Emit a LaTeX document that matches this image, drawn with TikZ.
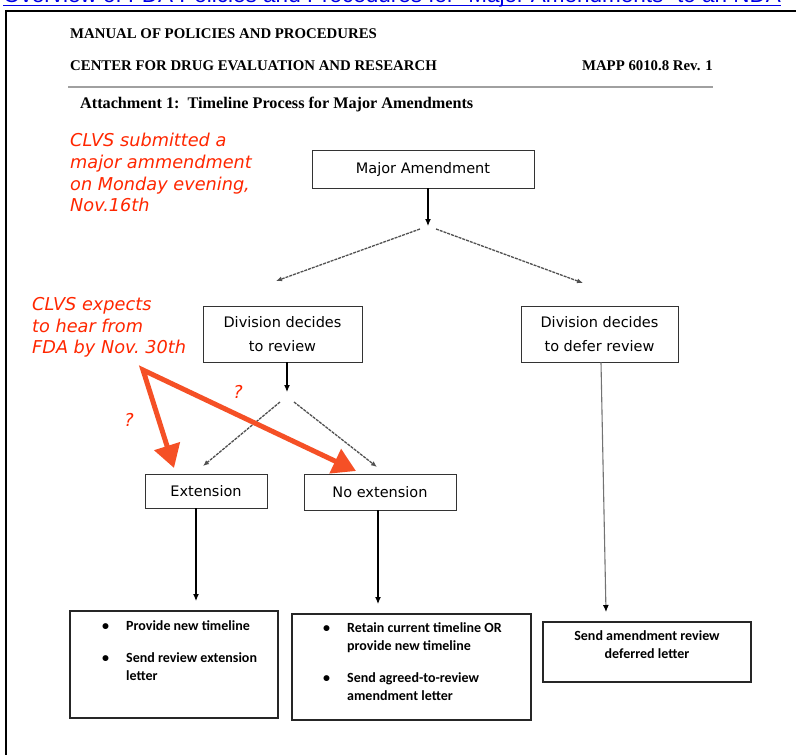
\documentclass[tikz,border=0pt]{standalone}
\usepackage{fontspec}
\setmainfont{Liberation Serif}
\newfontfamily\boxfont{DejaVu Sans}
\newfontfamily\notefont{DejaVu Sans}[ItalicFont={DejaVu Sans Oblique}]
\newfontfamily\listfont{Carlito}
\newfontfamily\linkfont{Liberation Sans}
\usepackage{xcolor}
\definecolor{scarlet}{RGB}{255,38,0}
\definecolor{flame}{RGB}{245,80,38}
\definecolor{linkblue}{RGB}{0,0,230}
\definecolor{rulegray}{RGB}{160,160,160}
\definecolor{dashgray}{RGB}{80,80,80}
\usetikzlibrary{arrows.meta,positioning}

\begin{document}
\begin{tikzpicture}[x=1pt,y=-1pt,
    flowbox/.style={draw=black!80, line width=0.9pt, font=\boxfont\fontsize{14.5}{24}\selectfont, align=center, inner sep=0pt},
    listbox/.style={draw=black!85, line width=1.3pt, inner sep=0pt},
    listtext/.style={font=\listfont\bfseries\fontsize{14}{18.5}\selectfont, inner sep=0pt},
    note/.style={font=\notefont\itshape\fontsize{17.7}{21.7}\selectfont, text=scarlet, align=left, anchor=north west, inner sep=0pt},
    head/.style={font=\bfseries\fontsize{14.8}{17}\selectfont, inner sep=0pt},
    flowarrow/.style={-{Latex[length=7pt,width=6pt]}, line width=1.1pt},
    splitarrow/.style={-{Latex[length=6pt,width=5pt]}, draw=dashgray, line width=1.3pt, dash pattern=on 3pt off 1pt},
    redarrow/.style={{Triangle[length=23pt,width=26pt]}-{Triangle[length=23pt,width=26pt]}, draw=flame, line width=5pt},
  ]
  \useasboundingbox (0,0) rectangle (796,755);
  \clip (0,0) rectangle (796,755);

  % page heading, cut off at the top
  \node[font=\linkfont\fontsize{22.5}{26}\selectfont, text=linkblue, anchor=base west, inner sep=0pt] (doclink) at (3,2.5) {Overview of FDA Policies and Procedures for “Major Amendments” to an NDA};
  \draw[linkblue, line width=1pt] ([yshift=-2.8pt]doclink.base west) -- ([yshift=-2.8pt]doclink.base east);
  \draw[line width=2pt] (6,760) |- (800,11);

  % document header
  \node[head, anchor=base west] (manual) at (70,38.5) {MANUAL OF POLICIES AND PROCEDURES};
  \node[head, anchor=base west] (center) at (70,70.5) {CENTER FOR DRUG EVALUATION AND RESEARCH};
  \node[head, anchor=base east] (mapp) at (713,70.5) {MAPP 6010.8 Rev. 1};
  \draw[rulegray, line width=2pt] (68,87) -- (713,87);
  \node[head, font=\bfseries\fontsize{16.2}{18}\selectfont, anchor=base west] (attach) at (80,108) {Attachment 1:\ \ Timeline Process for Major Amendments};

  % flow chart
  \node[flowbox, minimum width=222pt, minimum height=38pt] (major) at (423,169) {Major Amendment};
  \node[flowbox, minimum width=159pt, minimum height=56pt] (review) at (282.5,334) {Division decides\\to review};
  \node[flowbox, minimum width=157pt, minimum height=56pt] (defer) at (599.5,334) {Division decides\\to defer review};
  \node[flowbox, minimum width=122pt, minimum height=34pt] (ext) at (206,491) {Extension};
  \node[flowbox, minimum width=152pt, minimum height=36pt] (noext) at (380,492) {No extension};

  \node[listbox, minimum width=208pt, minimum height=107pt] (extletter) at (174,664.5) {};
  \node[listbox, minimum width=239pt, minimum height=106pt] (keepletter) at (411.5,667) {};
  \node[listbox, minimum width=208pt, minimum height=60pt] (deferletter) at (647,652) {};
  \node[listtext, anchor=base west] (extitems) at (102,630) {\begin{tabular}[t]{@{}l@{\hspace{17pt}}l@{}}\textbullet & Provide new timeline\\[13.5pt] \textbullet & Send review extension\\ & letter\end{tabular}};
  \node[listtext, anchor=base west] (keepitems) at (323,632) {\begin{tabular}[t]{@{}l@{\hspace{17pt}}l@{}}\textbullet & Retain current timeline OR\\ & provide new timeline\\[13pt] \textbullet & Send agreed-to-review\\ & amendment letter\end{tabular}};
  \node[listtext, anchor=base] (deferitems) at (647,640) {\begin{tabular}[t]{@{}c@{}}Send amendment review\\deferred letter\end{tabular}};

  \coordinate (majsplit) at (428,226);
  \coordinate (majleft) at (420,229);
  \coordinate (majright) at (436,229);
  \coordinate (reviewtip) at (276,281);
  \coordinate (defertip) at (583,283);
  \draw[flowarrow] (major.south -| majsplit) -- (majsplit);
  \draw[splitarrow] (majleft) -- (reviewtip);
  \draw[splitarrow] (majright) -- (defertip);

  \coordinate (revsplit) at (287,392);
  \coordinate (revleft) at (280,402);
  \coordinate (revright) at (294,402);
  \coordinate (exttip) at (203,466);
  \coordinate (noexttip) at (377,467);
  \draw[flowarrow] (review.south -| revsplit) -- (revsplit);
  \draw[splitarrow] (revleft) -- (exttip);
  \draw[splitarrow] (revright) -- (noexttip);

  \coordinate (extdrop) at (196,601);
  \coordinate (noextdrop) at (378,604);
  \coordinate (deferdrop) at (606,612);
  \draw[flowarrow] (ext.south -| extdrop) -- (extdrop);
  \draw[flowarrow] (noext.south -| noextdrop) -- (noextdrop);
  \draw[-{Latex[length=7pt,width=6pt,black]}, draw=black!55, line width=1.1pt] ([xshift=1.5pt]defer.south) -- (deferdrop);

  % red notes
  \node[note] (submitted) at (70,133) {CLVS submitted a\\major ammendment\\on Monday evening,\\Nov.16th};
  \node[note] (expects) at (32,297) {CLVS expects\\to hear from\\FDA by Nov.~30th};
  \coordinate (ask) at (143,370);
  \coordinate (asktipext) at (174,468);
  \coordinate (asktipnoext) at (356,471);
  \draw[redarrow] (asktipext) -- (ask) -- (asktipnoext);
  \node[note, anchor=center] (askext) at (129,420) {?};
  \node[note, anchor=center] (asknoext) at (238,392) {?};
\end{tikzpicture}
\end{document}
